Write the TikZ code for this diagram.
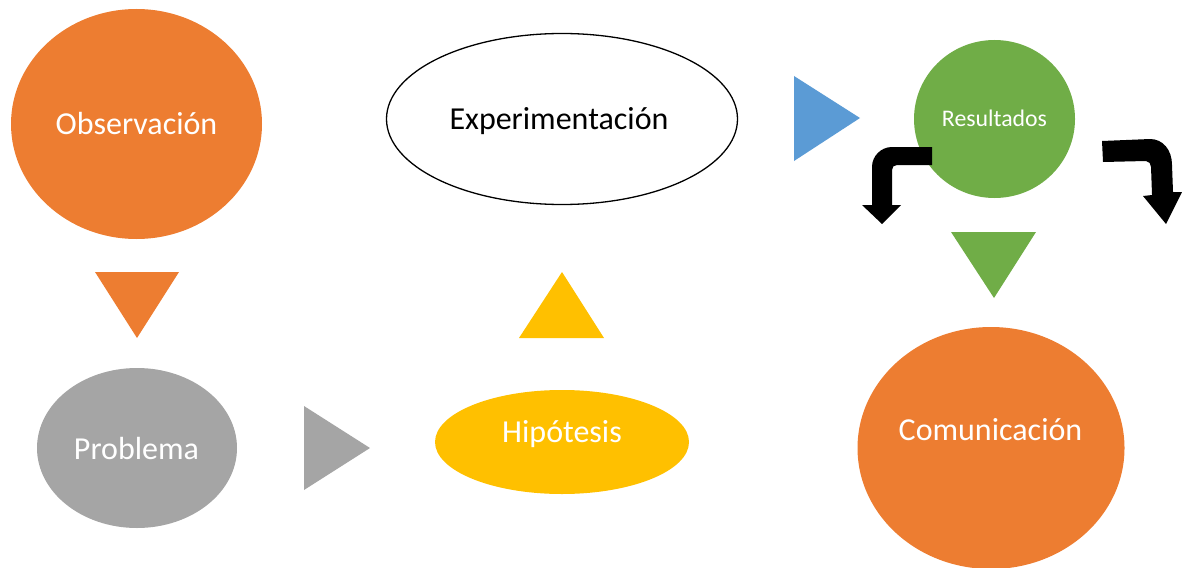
\documentclass[tikz,border=0pt]{standalone}
\usepackage{fontspec}
\setmainfont{Carlito}
\usetikzlibrary{shapes.geometric}
\definecolor{corange}{HTML}{ED7D31}
\definecolor{cgray}{HTML}{A5A5A5}
\definecolor{cyellow}{HTML}{FFC000}
\definecolor{cblue}{HTML}{5B9BD5}
\definecolor{cgreen}{HTML}{70AD47}
\tikzset{
  blob/.style={ellipse, draw=none, inner sep=0pt},
  big/.style={font=\fontsize{32}{38}\selectfont, anchor=base, inner sep=0pt},
  small/.style={font=\fontsize{23.8}{28}\selectfont, anchor=base, inner sep=0pt},
  tri/.style={draw=none},
  bent/.style={fill=black, draw=none}
}
\begin{document}
\begin{tikzpicture}[x=1pt,y=-1pt]
\useasboundingbox (0,0) rectangle (1182,567);
% ellipses
\node[blob, fill=corange, minimum width=251pt, minimum height=230pt] (obs) at (136.5,124) {};
\node[blob, fill=cgray, minimum width=200pt, minimum height=160pt] (prob) at (137,448) {};
\node[blob, fill=cyellow, minimum width=254pt, minimum height=104pt] (hip) at (562,442) {};
\node[ellipse, draw=black, line width=1.3pt, fill=white, inner sep=0pt, minimum width=351pt, minimum height=171pt] (exp) at (562,119) {};
\node[blob, fill=cgreen, minimum width=161pt, minimum height=158pt] (res) at (994.5,119) {};
\node[blob, fill=corange, minimum width=267pt, minimum height=242pt] (com) at (991,448) {};
% texts
\node[big, text=white] (tobs) at (136.5,135) {Observación};
\node[big, text=black] (texp) at (559,129) {Experimentación};
\node[small, text=white] (tres) at (994.5,126) {Resultados};
\node[big, text=white] (tprob) at (136.5,459) {Problema};
\node[big, text=white] (thip) at (562,442) {Hipótesis};
\node[big, text=white] (tcom) at (990.5,440) {Comunicación};
% triangles
\fill[corange] (95,272) -- (179,272) -- (137,338) -- cycle;
\fill[cgray] (304,406) -- (370,448) -- (304,490) -- cycle;
\fill[cyellow] (519,338) -- (604,338) -- (562,272) -- cycle;
\fill[cblue] (794,76) -- (860,118) -- (794,161) -- cycle;
\fill[cgreen] (951,232) -- (1036,232) -- (994,298) -- cycle;
% bent arrows
\fill[bent] (932,147) -- (892,147) .. controls (881,147) and (872,156) .. (872,167) -- (872,205) -- (862,205) -- (882,224) -- (901,205) -- (892,205) -- (892,170) .. controls (892,167) and (894,165) .. (897,165) -- (932,165) -- cycle;
\fill[bent] (1102,141) -- (1150,139) .. controls (1163,139) and (1172,150) .. (1172,165) -- (1173,192) -- (1182,192) -- (1166,224) -- (1143,196) -- (1152,195) -- (1151,167) .. controls (1151,164) and (1149,161) .. (1146,161) -- (1103,162) -- cycle;
\end{tikzpicture}
\end{document}
